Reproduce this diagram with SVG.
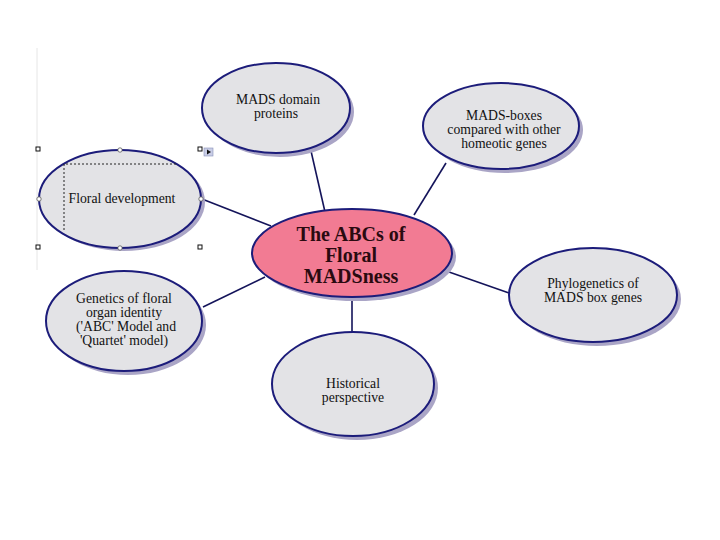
<svg xmlns="http://www.w3.org/2000/svg" width="720" height="540" viewBox="0 0 720 540">
<style>
.sh{fill:#aaa5c6;stroke:none}
.nd{fill:#e3e3e6;stroke:#1c1c7a;stroke-width:2}
.ct{fill:#f27b93;stroke:#1c1c7a;stroke-width:2}
.t{font-family:"Liberation Serif","Times New Roman",serif;font-size:13.7px;fill:#111;text-anchor:middle}
.tb{font-family:"Liberation Serif","Times New Roman",serif;font-size:20px;font-weight:bold;fill:#2a0a10;text-anchor:middle}
.cn{stroke:#14145a;stroke-width:1.6;fill:none}
.hs{fill:#fff;stroke:#111;stroke-width:1}
.hc{fill:#fff;stroke:#555;stroke-width:0.8}
</style>
<rect width="720" height="540" fill="#fff"/>
<line x1="37" y1="48" x2="37" y2="270" stroke="#e6e6e6" stroke-width="1"/>
<g id="connectors">
<line class="cn" x1="202" y1="199" x2="271" y2="226"/>
<line class="cn" x1="311" y1="151" x2="325" y2="212"/>
<line class="cn" x1="446" y1="163" x2="414" y2="215"/>
<line class="cn" x1="449" y1="272" x2="509" y2="293"/>
<line class="cn" x1="203" y1="307" x2="265" y2="277"/>
<line class="cn" x1="352" y1="297" x2="352" y2="332"/>
</g>
<g id="floral-development">
<ellipse class="sh" cx="124" cy="202" rx="81" ry="49"/>
<ellipse class="nd" cx="120" cy="199" rx="81" ry="49"/>
<path d="M64 230 V164 H177" fill="none" stroke="#222" stroke-width="1" stroke-dasharray="2,2"/>
<text class="t" x="122" y="203">Floral development</text>
<rect class="hs" x="36" y="147" width="4" height="4"/>
<rect class="hs" x="198" y="147" width="4" height="4"/>
<rect class="hs" x="36" y="245" width="4" height="4"/>
<rect class="hs" x="198" y="245" width="4" height="4"/>
<circle class="hc" cx="120" cy="150" r="2.2"/>
<circle class="hc" cx="120" cy="248" r="2.2"/>
<circle class="hc" cx="39" cy="199" r="2.2"/>
<circle class="hc" cx="201" cy="199" r="2.2"/>
<rect x="204" y="148" width="9" height="8" fill="#c9cde6" stroke="#8890b8" stroke-width="0.6"/>
<path d="M207 149.5 L211 152 L207 154.5 Z" fill="#111"/>
</g>
<g id="mads-domain">
<ellipse class="sh" cx="280" cy="112" rx="74" ry="45"/>
<ellipse class="nd" cx="276" cy="108" rx="74" ry="45"/>
<text class="t" x="278" y="104">MADS domain</text>
<text class="t" x="276" y="118">proteins</text>
</g>
<g id="mads-boxes">
<ellipse class="sh" cx="505" cy="130" rx="78" ry="43"/>
<ellipse class="nd" cx="501" cy="126" rx="78" ry="43"/>
<text class="t" x="504" y="120">MADS-boxes</text>
<text class="t" x="504" y="134">compared with other</text>
<text class="t" x="504" y="148">homeotic genes</text>
</g>
<g id="central">
<ellipse class="sh" cx="356" cy="257" rx="100" ry="44"/>
<ellipse class="ct" cx="352" cy="253" rx="100" ry="44"/>
<text class="tb" x="351" y="241">The ABCs of</text>
<text class="tb" x="351" y="262">Floral</text>
<text class="tb" x="351" y="283">MADSness</text>
</g>
<g id="phylogenetics">
<ellipse class="sh" cx="597" cy="299" rx="84" ry="47"/>
<ellipse class="nd" cx="593" cy="295" rx="84" ry="47"/>
<text class="t" x="593" y="288">Phylogenetics of</text>
<text class="t" x="593" y="302">MADS box genes</text>
</g>
<g id="genetics">
<ellipse class="sh" cx="128" cy="325" rx="78" ry="50"/>
<ellipse class="nd" cx="124" cy="321" rx="78" ry="50"/>
<text class="t" x="124" y="303">Genetics of floral</text>
<text class="t" x="124" y="317">organ identity</text>
<text class="t" x="126" y="331">('ABC' Model and</text>
<text class="t" x="124" y="345">'Quartet' model)</text>
</g>
<g id="historical">
<ellipse class="sh" cx="357" cy="388" rx="81" ry="52"/>
<ellipse class="nd" cx="353" cy="384" rx="81" ry="52"/>
<text class="t" x="353" y="388">Historical</text>
<text class="t" x="353" y="402">perspective</text>
</g>
</svg>
